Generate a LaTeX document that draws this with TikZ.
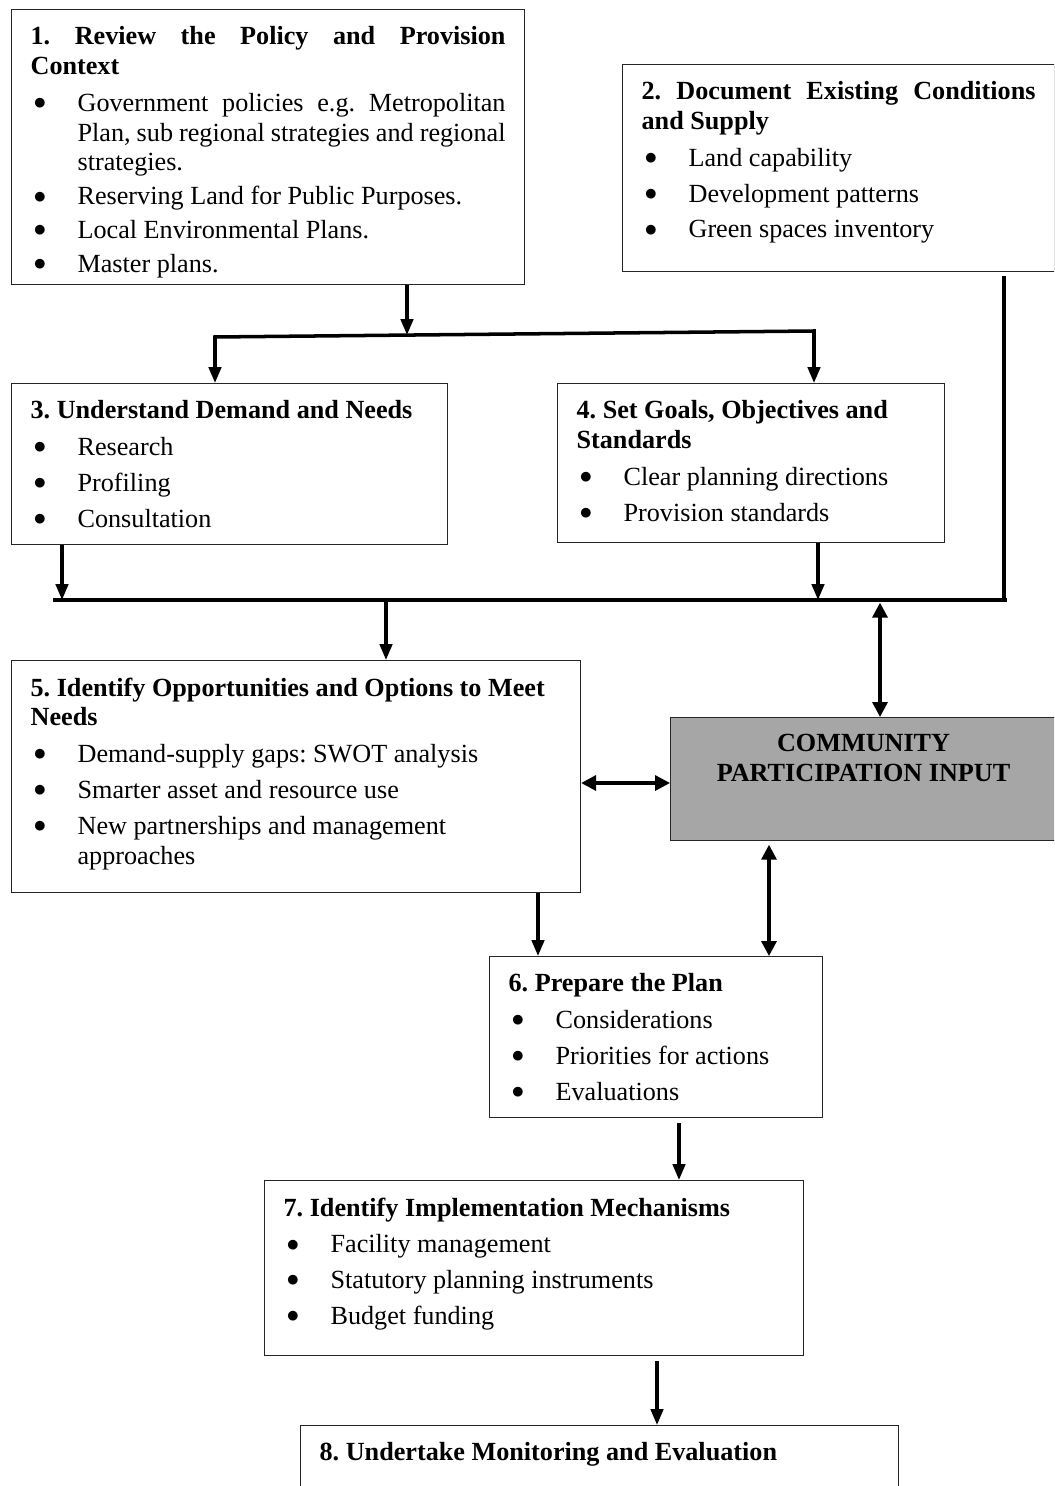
\documentclass[tikz,border=0pt]{standalone}
\usepackage{fontspec}
\setmainfont{Liberation Serif}
\usetikzlibrary{arrows.meta}

\newcommand{\stagetext}[3]{\parbox[t][\dimexpr #2cm-0.68cm\relax][t]{\dimexpr #1cm-0.76cm\relax}{#3}}
\newenvironment{points}[1][3.4pt]{\begin{list}{$\bullet$}{%
  \setlength{\leftmargin}{0.94cm}\setlength{\labelwidth}{0.94cm}%
  \setlength{\labelsep}{0pt}\setlength{\itemsep}{#1}%
  \setlength{\parsep}{0pt}\setlength{\topsep}{3.8pt}\setlength{\partopsep}{0pt}%
  \renewcommand{\makelabel}[1]{\hspace*{0.06cm}\raisebox{0.06em}{##1}\hfil}}}{\end{list}}

\begin{document}
\begin{tikzpicture}[
  x=0.02cm, y=-0.02cm,
  stage/.style={
    draw=black!85,
    line width=0.7pt,
    fill=white,
    anchor=north west,
    inner xsep=0.38cm,
    inner ysep=0.34cm,
    font=\fontsize{14.9pt}{17pt}\selectfont\frenchspacing
  },
  input/.style={stage, fill=black!35},
  bar/.style={line width=2pt, line cap=rect},
  arrow/.style={-{Triangle[length=9pt,width=7pt]}, line width=1.9pt},
  both/.style={{Triangle[length=8.5pt,width=8.5pt]}-{Triangle[length=8.5pt,width=8.5pt]}, line width=1.9pt}
]
  \path[use as bounding box, fill=white] (0,0) rectangle (1054,1486);
  \clip (0,0) rectangle (1054,1486);

  \node[stage] (policy) at (11,9) {\stagetext{10.26}{5.50}{%
    \textbf{1. Review the Policy and Provision\linebreak Context}
    \begin{points}[2.2pt]
      \item Government policies e.g. Metropolitan\linebreak Plan, sub regional strategies and regional\linebreak strategies.
      \item Reserving Land for Public Purposes.
      \item Local Environmental Plans.
      \item Master plans.
    \end{points}}};
  \node[stage] (supply) at (622,64) {\stagetext{8.64}{4.14}{%
    \textbf{2. Document Existing Conditions\linebreak and Supply}
    \begin{points}
      \item Land capability
      \item Development patterns
      \item Green spaces inventory
    \end{points}}};
  \node[stage] (demand) at (11,383) {\stagetext{8.72}{3.22}{\raggedright
    \textbf{3. Understand Demand and Needs}
    \begin{points}
      \item Research
      \item Profiling
      \item Consultation
    \end{points}}};
  \node[stage] (goals) at (557,383) {\stagetext{7.74}{3.18}{\raggedright
    \textbf{4. Set Goals, Objectives and\\ Standards}
    \begin{points}
      \item Clear planning directions
      \item Provision standards
    \end{points}}};
  \node[stage] (options) at (11,660) {\stagetext{11.38}{4.64}{\raggedright
    \textbf{5. Identify Opportunities and Options to Meet\\ Needs}
    \begin{points}
      \item Demand-supply gaps: SWOT analysis
      \item Smarter asset and resource use
      \item New partnerships and management\\ approaches
    \end{points}}};
  \node[input] (community) at (670,717) {\stagetext{7.72}{2.46}{\centering
    \textbf{COMMUNITY\\ PARTICIPATION INPUT}}};
  \node[stage] (plan) at (489,956) {\stagetext{6.66}{3.22}{\raggedright
    \textbf{6. Prepare the Plan}
    \begin{points}
      \item Considerations
      \item Priorities for actions
      \item Evaluations
    \end{points}}};
  \node[stage] (mechanisms) at (264,1180) {\stagetext{10.78}{3.50}{\raggedright
    \textbf{7. Identify Implementation Mechanisms}
    \begin{points}
      \item Facility management
      \item Statutory planning instruments
      \item Budget funding
    \end{points}}};
  \node[stage] (monitoring) at (300,1425) {\stagetext{11.96}{2.00}{\raggedright
    \textbf{8. Undertake Monitoring and Evaluation}}};

  \coordinate (fork) at (407,335);
  \coordinate (forkL) at (215,337);
  \coordinate (forkR) at (814,331);
  \draw[arrow] (policy.south -| fork) -- (fork);
  \draw[bar] (forkL) -- (forkR);
  \draw[arrow] (forkL) -- (forkL |- demand.north);
  \draw[arrow] (forkR) -- (forkR |- goals.north);

  \coordinate (joinL) at (55,600);
  \coordinate (joinR) at (1005,600);
  \coordinate (j3) at (62,600);
  \coordinate (j4) at (818,600);
  \coordinate (j2) at (1004,600);
  \coordinate (j5) at (386,600);
  \coordinate (jc) at (880,600);
  \draw[bar] (joinL) -- (joinR);
  \draw[bar, shorten <=3pt] (supply.south -| j2) -- (j2);
  \draw[arrow] (demand.south -| j3) -- (j3);
  \draw[arrow] (goals.south -| j4) -- (j4);
  \draw[arrow] (j5) -- (options.north -| j5);
  \draw[both, shorten <=1.5pt] (jc) -- (community.north -| jc);

  \coordinate (side) at (0,783);
  \draw[both] (options.east |- side) -- (community.west |- side);

  \coordinate (v5) at (538,0);
  \coordinate (vc) at (769,0);
  \coordinate (v6) at (679,0);
  \coordinate (v7) at (657,0);
  \draw[arrow] (options.south -| v5) -- (plan.north -| v5);
  \draw[both, shorten <=2pt] (community.south -| vc) -- (plan.north -| vc);
  \draw[arrow, shorten <=3pt] (plan.south -| v6) -- (mechanisms.north -| v6);
  \draw[arrow, shorten <=3pt] (mechanisms.south -| v7) -- (monitoring.north -| v7);
\end{tikzpicture}
\end{document}
